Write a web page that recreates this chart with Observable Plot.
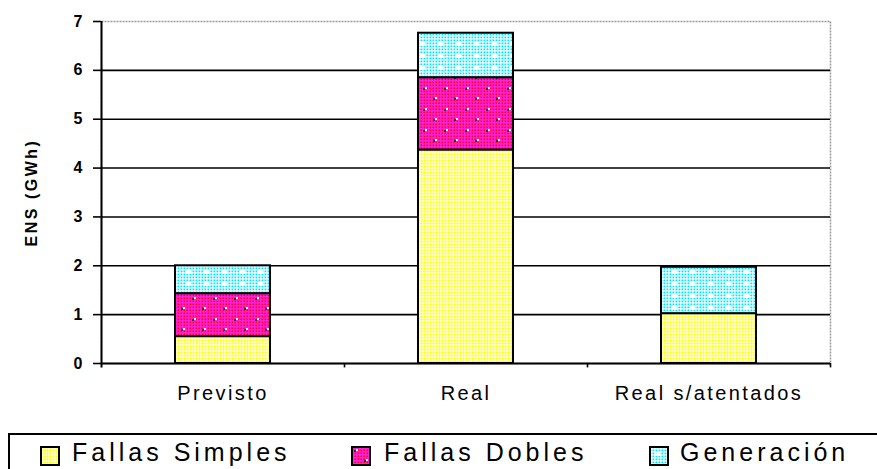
<!DOCTYPE html>
<html>
<head>
<meta charset="utf-8">
<script src="https://cdn.jsdelivr.net/npm/d3@7"></script>
<script src="https://cdn.jsdelivr.net/npm/@observablehq/plot@0.6"></script>
<style>
  html, body { margin: 0; padding: 0; background: #fff; overflow: hidden; width: 877px; height: 469px; }
  #wrap { position: relative; width: 877px; height: 469px; font-family: Arial, "Liberation Sans", sans-serif; }
  #chart { position: absolute; left: 0; top: 0; }
  #legend { position: absolute; left: 8px; top: 433px; width: 920px; height: 60px; border: 2px solid #000; box-sizing: border-box; }
  .sw { position: absolute; top: 11px; width: 20px; height: 20px; }
  .lt { position: absolute; top: 5px; font-size: 25px; line-height: 25px; letter-spacing: 4px; color: #000; white-space: nowrap; }
  g[aria-label="x-axis tick label"] text { letter-spacing: 2.4px; }
  g[aria-label="y-axis label"] text { letter-spacing: 2.5px; }
</style>
</head>
<body>
<svg width="0" height="0" style="position:absolute">
  <defs>
    <pattern id="pY" width="3" height="3" patternUnits="userSpaceOnUse">
      <rect width="3" height="3" fill="#fff"/>
      <rect x="0.5" y="0.5" width="2" height="2" fill="#ffff00"/>
    </pattern>
    <pattern id="pMbase" width="3" height="3" patternUnits="userSpaceOnUse">
      <rect width="3" height="3" fill="#ff22dd"/>
      <rect x="0.5" y="0.5" width="1.6" height="1.6" fill="#ff0022"/>
    </pattern>
    <pattern id="pM" width="21" height="21" patternUnits="userSpaceOnUse">
      <rect width="21" height="21" fill="url(#pMbase)"/>
      <rect x="3" y="4" width="2" height="2" fill="#333"/>
      <rect x="5" y="3" width="2" height="2" fill="#fff"/>
      <rect x="13" y="14" width="2" height="2" fill="#333"/>
      <rect x="15" y="13" width="2" height="2" fill="#fff"/>
    </pattern>
    <pattern id="pCbase" width="3" height="3" patternUnits="userSpaceOnUse">
      <rect width="3" height="3" fill="#fff"/>
      <rect x="0.5" y="0.5" width="1.8" height="1.8" fill="#00e5ff"/>
    </pattern>
    <pattern id="pC" width="18" height="12" patternUnits="userSpaceOnUse">
      <rect width="18" height="12" fill="url(#pCbase)"/>
      <rect x="6" y="6" width="5" height="4" fill="#fff"/>
    </pattern>
  </defs>
</svg>
<div id="wrap">
  <div id="chart"></div>
  <div id="legend"></div>
</div>
<script>
const categories = ["Previsto", "Real", "Real s/atentados"];
const series = ["Fallas Simples", "Fallas Dobles", "Generación"];
const fallasSimples = [0.55, 4.37, 1.02];
const fallasDobles = [0.88, 1.48, 0];
const generacion = [0.57, 0.91, 0.95];
const yTicks = [0, 1, 2, 3, 4, 5, 6, 7];
const patterns = ["url(#pY)", "url(#pM)", "url(#pC)"];

const valuesBySeries = [fallasSimples, fallasDobles, generacion];
const data = [];
categories.forEach((c, i) => {
  series.forEach((s, j) => {
    if (valuesBySeries[j][i] > 0) data.push({cat: c, series: s, value: valuesBySeries[j][i]});
  });
});

const halfStep = (877 - 101 - 47) / categories.length / 2;

const chart = Plot.plot({
  width: 877,
  height: 425,
  marginTop: 21,
  marginBottom: 62,
  marginLeft: 101,
  marginRight: 47,
  style: {fontFamily: "Arial, 'Liberation Sans', sans-serif", background: "#fff", color: "#000"},
  x: {domain: categories, paddingInner: 0.61, paddingOuter: 0.305, label: null},
  y: {domain: [0, 7], label: null},
  color: {domain: series, range: patterns},
  marks: [
    Plot.frame({stroke: "#999", strokeDasharray: "2,1", strokeWidth: 1.5}),
    Plot.ruleY(yTicks.filter(d => d > 0 && d < 7), {stroke: "#000", strokeWidth: 1.6}),
    Plot.barY(data, {x: "cat", y: "value", fill: "series", stroke: "#000", strokeWidth: 2}),
    Plot.ruleY([0], {stroke: "#000", strokeWidth: 2}),
    Plot.ruleX([categories[0]], {x: d => d, y1: -0.09, y2: 7, dx: -halfStep, stroke: "#000", strokeWidth: 2}),
    Plot.ruleX(categories.slice(1), {x: d => d, y1: 0, y2: -0.09, dx: -halfStep, stroke: "#000", strokeWidth: 1.6}),
    Plot.ruleX([categories[categories.length - 1]], {x: d => d, y1: 0, y2: -0.09, dx: halfStep, stroke: "#000", strokeWidth: 1.6}),
    Plot.axisY({ticks: yTicks, tickSize: 8, tickPadding: 11, tickFormat: d => d, fontSize: 16, fontWeight: "bold", stroke: "#000", strokeWidth: 1.6, label: "ENS (GWh)", labelAnchor: "center", labelOffset: 76, labelArrow: "none"}),
    Plot.axisX({tickSize: 0, tickPadding: 22, fontSize: 20, label: null})
  ]
});
document.getElementById("chart").appendChild(chart);
// y-axis title styling
d3.select(chart).selectAll('g[aria-label="y-axis label"] text').attr("font-size", 16).attr("font-weight", "bold");

const swLeft = [40, 351, 649];
const txtLeft = [72, 384, 680];
const legend = document.getElementById("legend");
series.forEach((s, i) => {
  const sw = document.createElement("div");
  sw.className = "sw";
  sw.style.left = (swLeft[i] - 10) + "px";
  sw.innerHTML = `<svg width="20" height="20"><rect x="1" y="1" width="18" height="18" fill="${patterns[i]}" stroke="#000" stroke-width="2"/></svg>`;
  const t = document.createElement("div");
  t.className = "lt";
  t.style.left = (txtLeft[i] - 10) + "px";
  t.textContent = s;
  legend.appendChild(sw);
  legend.appendChild(t);
});
</script>
</body>
</html>
